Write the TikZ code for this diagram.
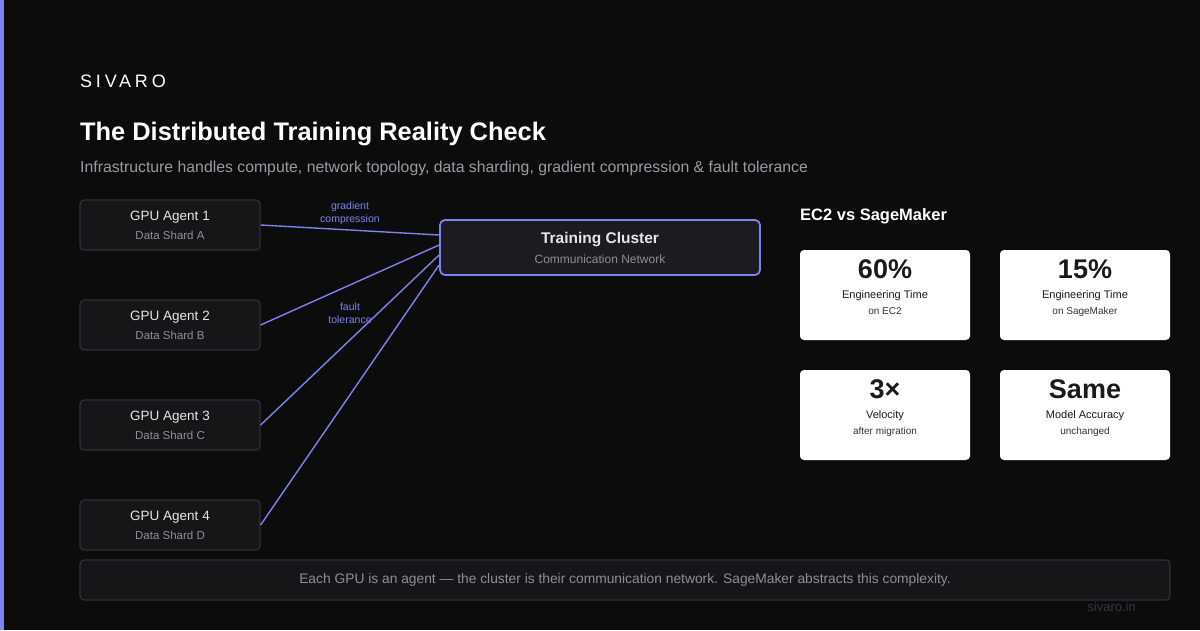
\documentclass[tikz,border=0pt]{standalone}
\usepackage{fontspec}
\setmainfont{Liberation Sans}
\newfontfamily\brandfont[LetterSpace=21]{Liberation Sans}
\usepackage{xcolor}
\usepackage{tikz}
\usetikzlibrary{positioning}
\definecolor{svbg}{HTML}{0C0C0D}
\definecolor{svaccent}{HTML}{7C83EE}
\definecolor{svbox}{HTML}{161619}
\definecolor{svhub}{HTML}{1C1C20}
\definecolor{svedge}{HTML}{303035}
\definecolor{svtext}{HTML}{E6E6E8}
\definecolor{svmuted}{HTML}{8E8E96}
\definecolor{svsub}{HTML}{9A9AA3}
\definecolor{svcard}{HTML}{1A1A1C}
\definecolor{svcardsub}{HTML}{333336}
\definecolor{svfaint}{HTML}{36363B}
\newcommand{\fs}[2]{\fontsize{#1}{#2}\selectfont}
\tikzset{
  agent/.style={draw=svedge,fill=svbox,rounded corners=4pt,line width=1.2pt,minimum width=180pt,minimum height=50pt,inner sep=0pt,align=center,text=svtext,font=\fs{13.5}{19}},
  hub/.style={draw=svaccent,fill=svhub,rounded corners=5pt,line width=1.8pt,minimum width=320pt,minimum height=55pt,inner sep=0pt,align=center,text=svtext,font=\fs{12}{20}},
  card/.style={fill=white,rounded corners=4pt,minimum width=170pt,minimum height=90pt,inner sep=0pt},
  cardtxt/.style={inner sep=0pt,align=center,text=svcard,font=\fs{11}{16}},
  link/.style={draw=svaccent,line width=1.4pt},
  linklbl/.style={text=svaccent,font=\fs{10.5}{13},align=center,inner sep=0pt},
}

\begin{document}
\begin{tikzpicture}[x=1pt,y=-1pt]
  \fill[svbg] (0,0) rectangle (1200,630);
  \useasboundingbox (0,0) rectangle (1200,630);
  \fill[svaccent] (0,0) rectangle (4,630);

  % header
  \node[anchor=base west,inner sep=0pt,text=white,font=\brandfont\fs{18}{20}] (brand) at (80,87) {SIVARO};
  \node[anchor=base west,inner sep=0pt,text=white,font=\bfseries\fs{25.4}{30}] (title) at (80,140) {The Distributed Training Reality Check};
  \node[anchor=base west,inner sep=0pt,text=svsub,font=\fs{15.8}{18}] (subtitle) at (80,172.5) {Infrastructure handles compute, network topology, data sharding, gradient compression \& fault tolerance};

  % agents and cluster
  \node[agent] (gpu1) at (170,225) {GPU Agent 1\\{\fs{11.5}{19}\color{svmuted}Data Shard A}};
  \node[agent] (gpu2) at (170,325) {GPU Agent 2\\{\fs{11.5}{19}\color{svmuted}Data Shard B}};
  \node[agent] (gpu3) at (170,425) {GPU Agent 3\\{\fs{11.5}{19}\color{svmuted}Data Shard C}};
  \node[agent] (gpu4) at (170,525) {GPU Agent 4\\{\fs{11.5}{19}\color{svmuted}Data Shard D}};
  \node[hub] (cluster) at (600,247.5) {{\bfseries\fs{15.5}{20}Training Cluster}\\{\color{svmuted}Communication Network}};

  \draw[link] (gpu1.east) -- ([yshift=12.5pt]cluster.west);
  \draw[link] (gpu2.east) -- ([yshift=2.5pt]cluster.west);
  \draw[link] (gpu3.east) -- ([yshift=-7.5pt]cluster.west);
  \draw[link] (gpu4.east) -- ([yshift=-17.5pt]cluster.west);
  \node[linklbl] (lblgrad) at (350,213) {gradient\\compression};
  \node[linklbl] (lblfault) at (350,313) {fault\\tolerance};

  % comparison
  \node[anchor=base west,inner sep=0pt,text=white,font=\bfseries\fs{16.5}{20}] (cmp) at (800,220) {EC2 vs SageMaker};
  \node[card] (ec2) at (885,295) {};
  \node[card] (sage) at (1085,295) {};
  \node[card] (velo) at (885,415) {};
  \node[card] (acc) at (1085,415) {};
  \node[cardtxt,below=10pt of ec2.north] (ec2txt) {{\bfseries\fs{27}{16}60\%}\\[4pt]Engineering Time\\{\fs{10}{16}\color{svcardsub}on EC2}};
  \node[cardtxt,below=10pt of sage.north] (sagetxt) {{\bfseries\fs{27}{16}15\%}\\[4pt]Engineering Time\\{\fs{10}{16}\color{svcardsub}on SageMaker}};
  \node[cardtxt,below=10pt of velo.north] (velotxt) {{\bfseries\fs{27}{16}3×}\\[4pt]Velocity\\{\fs{10}{16}\color{svcardsub}after migration}};
  \node[cardtxt,below=10pt of acc.north] (acctxt) {{\bfseries\fs{27}{16}Same}\\[4pt]Model Accuracy\\{\fs{10}{16}\color{svcardsub}unchanged}};

  % footer
  \node[draw=svedge,fill=svbox,rounded corners=4pt,line width=1.2pt,minimum width=1090pt,minimum height=40pt,inner sep=0pt,text=svmuted,font=\fs{13.8}{16}] (note) at (625,580) {Each GPU is an agent — the cluster is their communication network. SageMaker abstracts this complexity.};
  \node[anchor=east,inner sep=0pt,text=svfaint,font=\fs{13}{16}] (site) at (1136,607) {sivaro.in};
\end{tikzpicture}
\end{document}
